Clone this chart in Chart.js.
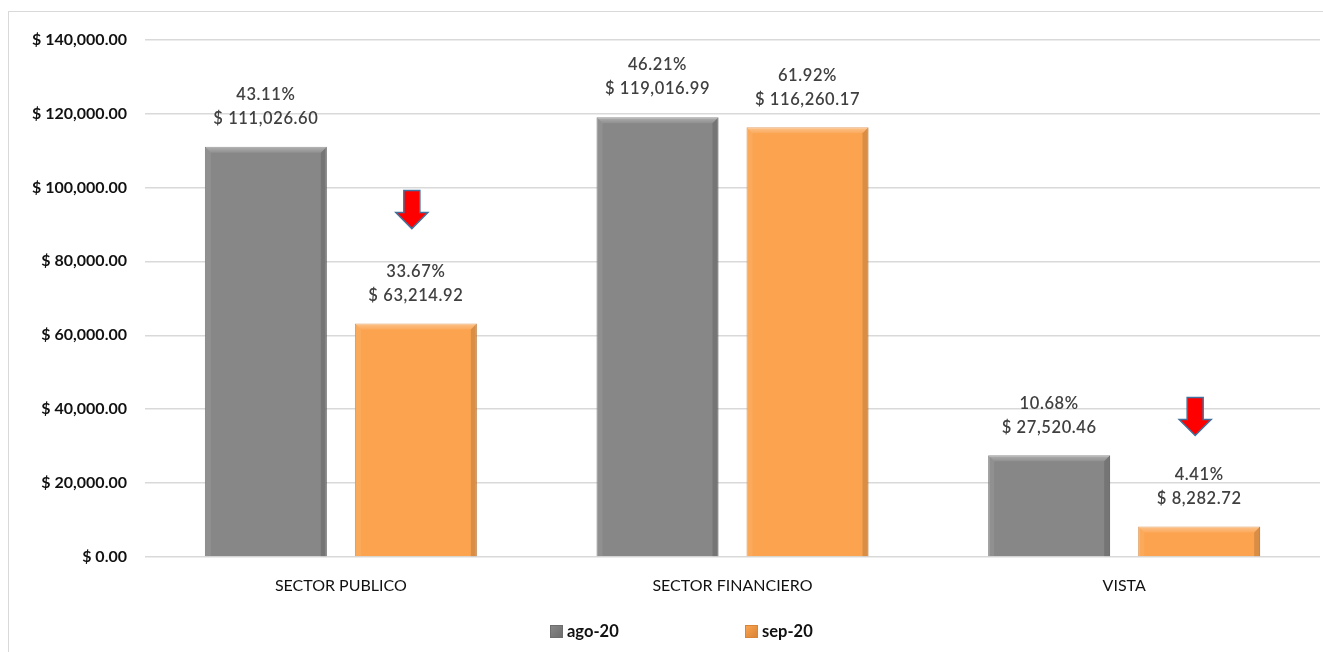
<!DOCTYPE html>
<html>
<head>
<meta charset="utf-8">
<script src="https://cdn.jsdelivr.net/npm/chart.js@4.4.0/dist/chart.umd.min.js"></script>
<style>
  html, body { margin: 0; padding: 0; background: #fff; }
  body { width: 1323px; height: 652px; overflow: hidden; position: relative; font-family: Lato, sans-serif; }
  #frame { position: absolute; left: 8px; top: 11px; width: 1315px; height: 641px;
           border-left: 1px solid #d9d9d9; border-top: 1px solid #d9d9d9; }
  #wrap { position: absolute; left: 0; top: 0; width: 1314px; height: 640px; }
  .leg { position: absolute; top: 621px; font: bold 16.5px Lato, sans-serif; color: #111; display: flex; align-items: center; }
  .leg i { display: inline-block; width: 11px; height: 11px; margin-right: 4px; }
</style>
</head>
<body>
<div id="frame">
  <div id="wrap"><canvas id="chart"></canvas></div>
</div>
<div id="legend"></div>

<script>
// Chart data
const categories = ['SECTOR PUBLICO', 'SECTOR FINANCIERO', 'VISTA'];
const seriesNames = ['ago-20', 'sep-20'];
const ago20 = [111026.60, 119016.99, 27520.46];
const sep20 = [63214.92, 116260.17, 8282.72];
const ago20Pct = [43.11, 46.21, 10.68];
const sep20Pct = [33.67, 61.92, 4.41];
const sep20DropArrow = [94000, null, 38000];   // red "down" markers, in axis units
const yMax = 140000, yStep = 20000;

const colors = ['#878787', '#fba34f'];
const borders = ['#6e6e6e', '#d98537'];
const pcts = [ago20Pct, sep20Pct];

const money = v => '$ ' + v.toLocaleString('en-US', { minimumFractionDigits: 2, maximumFractionDigits: 2 });

// Excel-style bevel on the bars
const bevelPlugin = {
    id: 'bevel',
    afterDatasetsDraw(chart) {
        const ctx = chart.ctx;
        const poly = (pts, fill) => {
            ctx.beginPath();
            pts.forEach((p, i) => i ? ctx.lineTo(p[0], p[1]) : ctx.moveTo(p[0], p[1]));
            ctx.closePath();
            ctx.fillStyle = fill;
            ctx.fill();
        };
        chart.data.datasets.forEach((ds, i) => {
            chart.getDatasetMeta(i).data.forEach(bar => {
                const { x, y, base, width } = bar.getProps(['x', 'y', 'base', 'width'], true);
                const l = x - width / 2, r = x + width / 2, d = 6;
                ctx.save();
                const g = ctx.createLinearGradient(0, y, 0, y + d);
                g.addColorStop(0, 'rgba(255,255,255,0.35)');
                g.addColorStop(1, 'rgba(255,255,255,0.08)');
                poly([[l, y], [r, y], [r - d, y + d], [l + d, y + d]], g);
                poly([[l, y], [l + d, y + d], [l + d, base], [l, base]], 'rgba(255,255,255,0.08)');
                poly([[r, y], [r, base], [r - d, base], [r - d, y + d]], 'rgba(0,0,0,0.13)');
                ctx.restore();
            });
        });
    }
};

// Two-line value labels above every bar + red arrows
const labelPlugin = {
    id: 'labels',
    afterDatasetsDraw(chart) {
        const ctx = chart.ctx;
        const yScale = chart.scales.y;
        ctx.save();
        ctx.font = '600 16.5px Lato, sans-serif';
        ctx.fillStyle = '#404040';
        ctx.textAlign = 'center';
        ctx.textBaseline = 'middle';
        try { ctx.letterSpacing = '0.6px'; } catch (e) {}
        chart.data.datasets.forEach((ds, i) => {
            chart.getDatasetMeta(i).data.forEach((bar, j) => {
                const top = bar.y;
                ctx.fillText(pcts[i][j].toFixed(2) + '%', bar.x, top - 52);
                ctx.fillText(money(ds.data[j]), bar.x, top - 28);
            });
        });
        ctx.restore();

        // arrows on sep-20
        chart.getDatasetMeta(1).data.forEach((bar, j) => {
            const v = sep20DropArrow[j];
            if (v == null) return;
            const cx = bar.x - 4, cy = yScale.getPixelForValue(v);
            ctx.save();
            ctx.beginPath();
            ctx.moveTo(cx - 8, cy - 19);
            ctx.lineTo(cx + 8, cy - 19);
            ctx.lineTo(cx + 8, cy + 3);
            ctx.lineTo(cx + 16, cy + 3);
            ctx.lineTo(cx, cy + 19);
            ctx.lineTo(cx - 16, cy + 3);
            ctx.lineTo(cx - 8, cy + 3);
            ctx.closePath();
            ctx.fillStyle = '#ff0000';
            ctx.fill();
            ctx.lineWidth = 1.5;
            ctx.strokeStyle = '#41719c';
            ctx.stroke();
            ctx.restore();
        });
    }
};

new Chart(document.getElementById('chart'), {
    type: 'bar',
    data: {
        labels: categories,
        datasets: [ago20, sep20].map((data, i) => ({
            label: seriesNames[i],
            data,
            backgroundColor: colors[i],
            borderColor: borders[i],
            borderWidth: 1,
            categoryPercentage: 0.766,
            barPercentage: 0.813
        }))
    },
    options: {
        responsive: true,
        maintainAspectRatio: false,
        animation: false,
        layout: { padding: { top: 25, right: 3, left: 0, bottom: 0 } },
        plugins: { legend: { display: false }, tooltip: { enabled: false } },
        scales: {
            x: {
                grid: { display: false },
                border: { display: false },
                ticks: { color: '#111', font: { family: 'Lato', size: 16 }, padding: 11 },
                afterFit: s => { s.height = 95; }
            },
            y: {
                min: 0, max: yMax,
                grid: { color: '#d9d9d9', lineWidth: 1.5, drawTicks: false },
                border: { display: false },
                ticks: {
                    stepSize: yStep,
                    padding: 18,
                    color: '#111',
                    font: { family: 'Lato', size: 16, weight: 'bold' },
                    callback: v => money(v)
                },
                afterFit: s => { s.width = 136; }
            }
        }
    },
    plugins: [bevelPlugin, labelPlugin]
});

// legend (Excel puts it well below the axis labels)
const legend = document.getElementById('legend');
const legendLeft = [550, 745];
seriesNames.forEach((name, i) => {
    const d = document.createElement('div');
    d.className = 'leg';
    d.style.left = legendLeft[i] + 'px';
    d.innerHTML = `<i style="background:linear-gradient(135deg, ${colors[i]} 0%, ${borders[i]} 100%);border:1px solid ${borders[i]}"></i>${name}`;
    legend.appendChild(d);
});
</script>
</body>
</html>
